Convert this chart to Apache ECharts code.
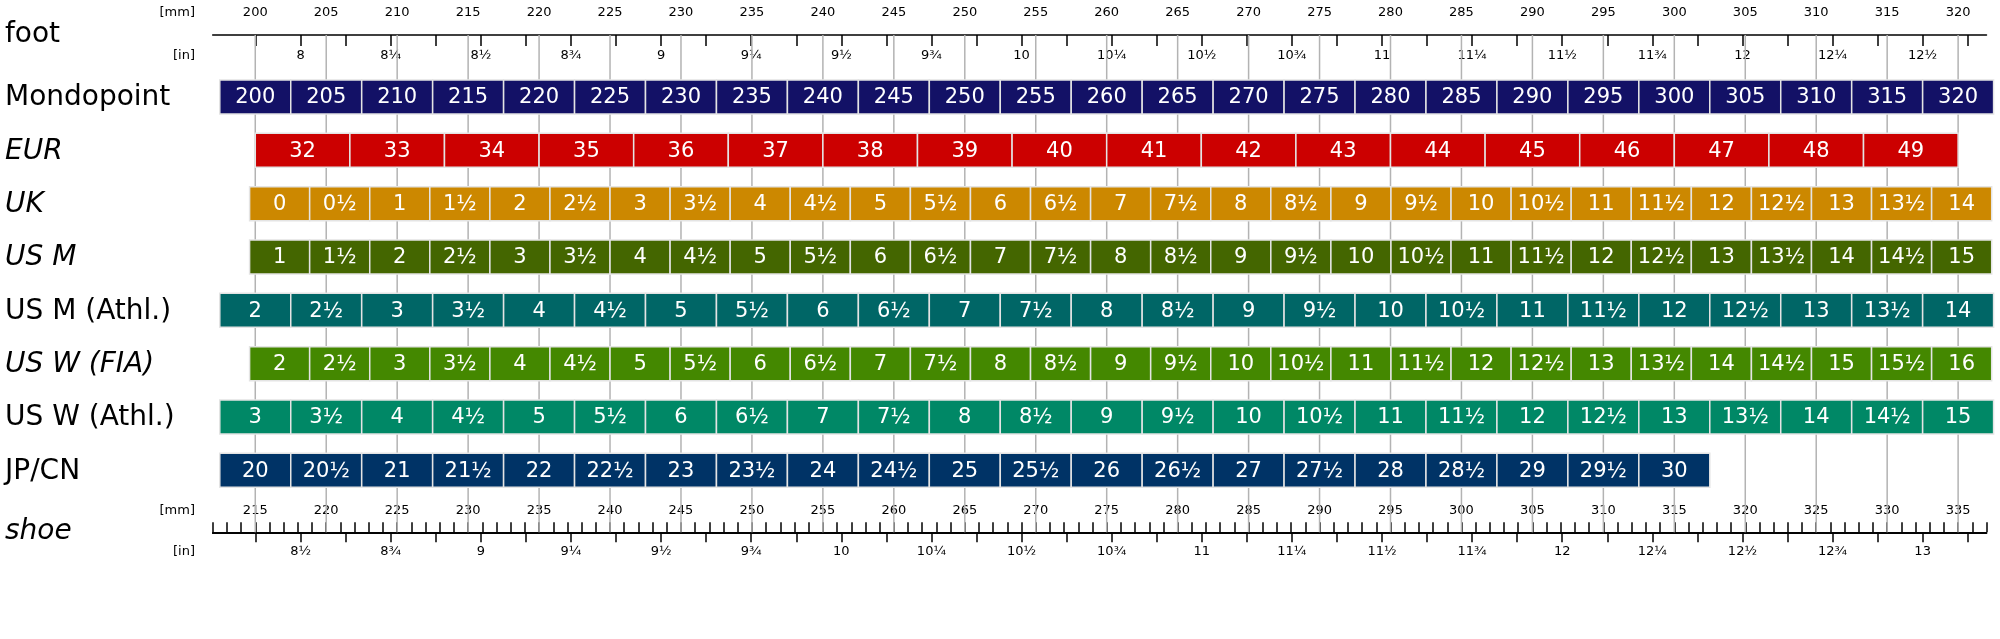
<!DOCTYPE html>
<html><head><meta charset="utf-8">
<script src="https://cdn.jsdelivr.net/npm/echarts@6/dist/echarts.min.js"></script>
<style>html,body{margin:0;padding:0;background:#fff}#c{width:2000px;height:639px}</style>
</head><body><div id="c"></div>
<script>
// ---- data ----
const rowNames = ['Mondopoint','EUR','UK','US M','US M (Athl.)','US W (FIA)','US W (Athl.)','JP/CN'];
const rowItalic = [false,true,true,true,false,true,false,false];
const rowColors = ['#131166','#cc0000','#cc8800','#446600','#006666','#448800','#008866','#003366'];
const mondopoint = ['200','205','210','215','220','225','230','235','240','245','250','255','260','265','270','275','280','285','290','295','300','305','310','315','320'];
const eur = ['32','33','34','35','36','37','38','39','40','41','42','43','44','45','46','47','48','49'];
const uk = ['0','0½','1','1½','2','2½','3','3½','4','4½','5','5½','6','6½','7','7½','8','8½','9','9½','10','10½','11','11½','12','12½','13','13½','14'];
const usM = ['1','1½','2','2½','3','3½','4','4½','5','5½','6','6½','7','7½','8','8½','9','9½','10','10½','11','11½','12','12½','13','13½','14','14½','15'];
const usMAthl = ['2','2½','3','3½','4','4½','5','5½','6','6½','7','7½','8','8½','9','9½','10','10½','11','11½','12','12½','13','13½','14'];
const usWFia = ['2','2½','3','3½','4','4½','5','5½','6','6½','7','7½','8','8½','9','9½','10','10½','11','11½','12','12½','13','13½','14','14½','15','15½','16'];
const usWAthl = ['3','3½','4','4½','5','5½','6','6½','7','7½','8','8½','9','9½','10','10½','11','11½','12','12½','13','13½','14','14½','15'];
const jpcn = ['20','20½','21','21½','22','22½','23','23½','24','24½','25','25½','26','26½','27','27½','28','28½','29','29½','30'];
// first-bar left edge (foot length, mm) and size step (mm) per row
const rowStarts = [197.5, 200, 199.6, 199.6, 197.5, 199.6, 197.5, 197.5];
const rowSteps = [5, 20/3, 25.4/6, 25.4/6, 5, 25.4/6, 5, 5];
const rowLabels = [mondopoint, eur, uk, usM, usMAthl, usWFia, usWAthl, jpcn];
const shoeOffsetMm = 15;      // shoe mm = foot mm + 15
const shoeOffsetIn = 0.5;     // shoe in = foot in + 1/2
const axisMin = 197, axisMax = 322;

// ---- derived ----
const mmTicks = []; for (let v = axisMin; v <= axisMax; v++) mmTicks.push(v);
const mmLabels = mmTicks.filter(v => v % 5 === 0);
const inTicks = []; for (let q = 62; q <= 101; q++) inTicks.push(q * 25.4 / 8);
const inLabels = inTicks.filter((v, i) => i % 2 === 0);
function frac(x){
  const q = Math.round(x * 4); const w = Math.floor(q / 4); const r = q % 4;
  return w + ['', '¼', '½', '¾'][r];
}
const barData = [];
rowLabels.forEach((labs, r) => labs.forEach((t, k) => {
  const s = rowStarts[r] + k * rowSteps[r];
  barData.push([r, s, s + rowSteps[r], t]);
}));
const gridLineData = mmLabels.map(v => [v]);

const FONT = '"DejaVu Sans", sans-serif';
const TOP = 35, BOT = 532.3, ROW0 = 80, PITCH = 53.33, BH = 34;
const rulerTxt = {color:'#000', fontSize:13, fontFamily:FONT};
const chart = echarts.init(document.getElementById('c'));
const baseAxis = {type:'value', min:axisMin, max:axisMax, gridIndex:0, splitLine:{show:false},
  axisLine:{show:true, lineStyle:{color:'#000', width:1.5}}};
chart.setOption({
  animation:false,
  grid:{left:212.7, right:13.5, top:TOP, bottom:639-BOT},
  xAxis:[
    Object.assign({}, baseAxis, {position:'top',
      axisTick:{show:true, inside:false, length:10, customValues:mmTicks, lineStyle:{color:'#000', width:1.5}},
      axisLabel:{show:true, inside:false, margin:16, customValues:mmLabels, formatter:v=>String(Math.round(v)), ...rulerTxt}}),
    Object.assign({}, baseAxis, {position:'top',
      axisTick:{show:true, inside:true, length:11, customValues:inTicks, lineStyle:{color:'#000', width:1.5}},
      axisLabel:{show:true, inside:true, margin:14, customValues:inLabels, formatter:v=>frac(v/25.4), ...rulerTxt}}),
    Object.assign({}, baseAxis, {position:'bottom',
      axisTick:{show:true, inside:true, length:10, customValues:mmTicks, lineStyle:{color:'#000', width:1.5}},
      axisLabel:{show:true, inside:true, margin:15, customValues:mmLabels, formatter:v=>String(Math.round(v)+shoeOffsetMm), ...rulerTxt}}),
    Object.assign({}, baseAxis, {position:'bottom',
      axisTick:{show:true, inside:false, length:10, customValues:inTicks, lineStyle:{color:'#000', width:1.5}},
      axisLabel:{show:true, inside:false, margin:13, customValues:inLabels, formatter:v=>frac(v/25.4+shoeOffsetIn), ...rulerTxt}})
  ],
  yAxis:{type:'value', min:0, max:1, show:false},
  series:[
    {type:'custom', xAxisIndex:0, z:1, silent:true, data:gridLineData,
     renderItem:(p, api)=>{ const x = api.coord([api.value(0), 0])[0];
       return {type:'line', shape:{x1:x, y1:TOP, x2:x, y2:BOT}, style:{stroke:'#b3b3b3', lineWidth:1.5}}; }},
    {type:'custom', xAxisIndex:0, z:3, silent:true, clip:false, data:barData,
     encode:{x:[1,2]},
     renderItem:(p, api)=>{
       const r = api.value(0); const x1 = api.coord([api.value(1),0])[0]; const x2 = api.coord([api.value(2),0])[0];
       const y = ROW0 + r * PITCH;
       return {type:'group', children:[
         {type:'rect', shape:{x:x1, y:y, width:x2-x1, height:BH}, style:{fill:rowColors[r], stroke:'#e4e4e4', lineWidth:1.5}},
         {type:'text', style:{text:barData[p.dataIndex][3], x:(x1+x2)/2, y:y+BH/2+1, fill:'#fff', font:'21px '+FONT, align:'center', verticalAlign:'middle'}}
       ]};
     }}
  ],
  graphic:[
    {type:'text', left:5, top:21, style:{text:'foot', font:'28px '+FONT, fill:'#000'}},
    {type:'text', left:5, top:518, style:{text:'shoe', font:'italic 28px '+FONT, fill:'#000'}},
    {type:'text', x:195, y:13, style:{text:'[mm]', font:'13px '+FONT, fill:'#000', align:'right', verticalAlign:'middle'}},
    {type:'text', x:195, y:56, style:{text:'[in]', font:'13px '+FONT, fill:'#000', align:'right', verticalAlign:'middle'}},
    {type:'text', x:195, y:511, style:{text:'[mm]', font:'13px '+FONT, fill:'#000', align:'right', verticalAlign:'middle'}},
    {type:'text', x:195, y:552, style:{text:'[in]', font:'13px '+FONT, fill:'#000', align:'right', verticalAlign:'middle'}}
  ].concat(rowNames.map((n, i) => ({type:'text', x:5, y:ROW0 + i*PITCH + BH/2 + 1,
     style:{text:n, font:(rowItalic[i]?'italic ':'')+'28px '+FONT, fill:'#000', verticalAlign:'middle'}})))
});
</script></body></html>
